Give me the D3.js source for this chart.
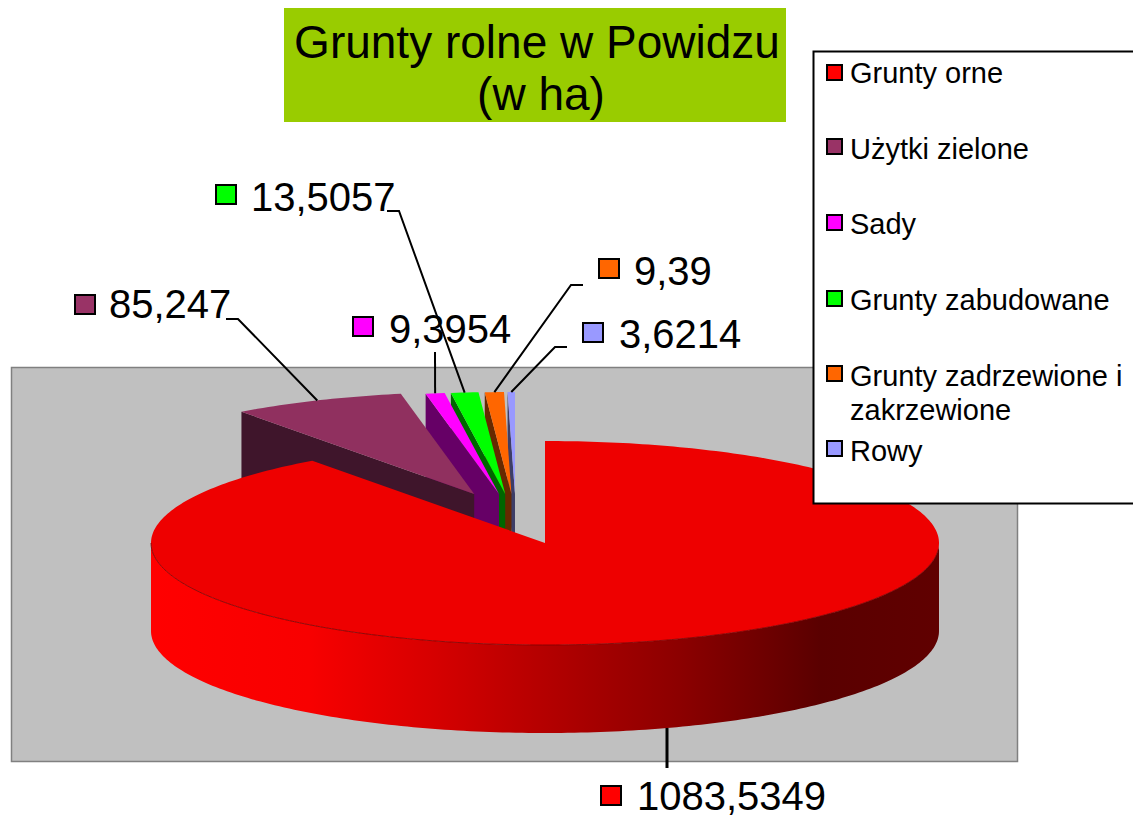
<!DOCTYPE html>
<html>
<head>
<meta charset="utf-8">
<script src="https://cdn.jsdelivr.net/npm/d3@7"></script>
<style>
  html, body { margin: 0; padding: 0; background: #fff; overflow: hidden; }
  svg { display: block; }
  text { font-family: "Liberation Sans", Arial, sans-serif; fill: #000; }
</style>
</head>
<body>
<div id="chart"></div>
<script>
const categories = ["Grunty orne", "Użytki zielone", "Sady", "Grunty zabudowane", "Grunty zadrzewione i zakrzewione", "Rowy"];
const values = [1083.5349, 85.247, 9.3954, 13.5057, 9.39, 3.6214];
const valueLabels = ["1083,5349", "85,247", "9,3954", "13,5057", "9,39", "3,6214"];
const topColors = ["#ee0000", "#90305f", "#ff00ff", "#00ff00", "#ff6600", "#9999ff"];
const sideColors = ["#ee0000", "#3f152b", "#660066", "#006600", "#662900", "#3d3d66"];
const markerColors = ["#ff0000", "#993366", "#ff00ff", "#00ff00", "#ff6600", "#9999ff"];

const width = 1133, height = 819;
const cx = 545, cy = 543, rx = 394, ry = 102, depth = 88;

// label box: marker corner, text start, baseline, leader elbow
const labelLayout = [
    { mx: 601, my: 786, tx: 637, ty: 810, leader: [[667, 768]] },
    { mx: 75, my: 295, tx: 109, ty: 318, leader: [[226, 319], [238, 319]] },
    { mx: 353, my: 317, tx: 389, ty: 343, leader: [[435, 352]] },
    { mx: 216, my: 185, tx: 251, ty: 211, leader: [[387, 211], [399, 211]] },
    { mx: 599, my: 259, tx: 634, ty: 285, leader: [[583, 285], [571, 285]] },
    { mx: 583, my: 323, tx: 619, ty: 348, leader: [[567, 347], [555, 347]] },
];
const legendLayout = [
    { my: 65, lines: [83] },
    { my: 139, lines: [159] },
    { my: 215, lines: [234] },
    { my: 291, lines: [310] },
    { my: 366, lines: [386, 420] },
    { my: 441, lines: [461] },
];
const legendLines = [["Grunty orne"], ["Użytki zielone"], ["Sady"], ["Grunty zabudowane"], ["Grunty zadrzewione i", "zakrzewione"], ["Rowy"]];

const svg = d3.select("#chart").append("svg").attr("width", width).attr("height", height);

const arcs = d3.pie().sort(null).startAngle(0).endAngle(Math.PI * 2)(values);

// the small slices are pulled out towards the back and left
arcs.forEach((a, i) => {
    const mid = (a.startAngle + a.endAngle) / 2;
    a.ox = i === 0 ? cx : cx - 29 + 105 * Math.sin(mid);
    a.oy = i === 0 ? cy : cy - 49;
});

const px = (a, t) => a.ox + rx * Math.sin(t);
const py = (a, t) => a.oy - ry * Math.cos(t);

function arcPoints(a, t0, t1) {
    const n = Math.max(2, Math.ceil(Math.abs(t1 - t0) * 60));
    return d3.range(n + 1).map((k) => {
        const t = t0 + (t1 - t0) * k / n;
        return [px(a, t), py(a, t)];
    });
}
const line = d3.line();

const defs = svg.append("defs");
const wallGrad = defs.append("linearGradient").attr("id", "wall")
    .attr("gradientUnits", "userSpaceOnUse")
    .attr("x1", cx - rx).attr("x2", cx + rx).attr("y1", 0).attr("y2", 0);
[[0, "#ff0000"], [0.2, "#f80000"], [0.35, "#d80000"], [0.55, "#a80000"], [0.67, "#8c0000"], [0.85, "#5a0000"], [1, "#600000"]].forEach((s) => {
    wallGrad.append("stop").attr("offset", s[0]).attr("stop-color", s[1]);
});

// plot area
svg.append("rect").attr("x", 11.5).attr("y", 367.5).attr("width", 1006).attr("height", 394)
    .attr("fill", "#c0c0c0").attr("stroke", "#808080").attr("stroke-width", 1.5);

// slices from the back of the stack to the front
const drawOrder = [5, 4, 3, 2, 1, 0];
drawOrder.forEach((i) => {
    const a = arcs[i];
    const g = svg.append("g").attr("class", "slice");
    if (i === 0) {
        // front wall of the big slice
        const front = arcPoints(a, Math.PI / 2, 3 * Math.PI / 2);
        const wall = front.concat(front.slice().reverse().map((p) => [p[0], p[1] + depth]));
        g.append("path").attr("d", line(wall) + "Z").attr("fill", "url(#wall)");
    } else {
        // cut face along the slice's first radius
        const corner = [px(a, a.startAngle), py(a, a.startAngle)];
        const face = [corner, [a.ox, a.oy], [a.ox, a.oy + depth], [corner[0], corner[1] + depth]];
        g.append("path").attr("d", line(face) + "Z").attr("fill", sideColors[i]);
    }
    const top = [[a.ox, a.oy]].concat(arcPoints(a, a.startAngle, a.endAngle));
    g.append("path").attr("d", line(top) + "Z").attr("fill", topColors[i]);
    if (i === 0) {
        // thin dark rim where the top meets the wall
        g.append("path").attr("d", line(arcPoints(a, Math.PI * 0.52, Math.PI * 1.5)))
            .attr("fill", "none").attr("stroke", "#7a0000").attr("stroke-width", 1).attr("stroke-opacity", 0.8);
    }
});

// leaders end on the slice's outer edge
arcs.forEach((a, i) => {
    const mid = (a.startAngle + a.endAngle) / 2;
    let end = [px(a, mid), py(a, mid)];
    if (i === 0) end = [labelLayout[0].leader[0][0], py(a, Math.PI - Math.asin((labelLayout[0].leader[0][0] - cx) / rx)) + depth];
    svg.append("path")
        .attr("d", line(labelLayout[i].leader.concat([end])))
        .attr("fill", "none").attr("stroke", "#000").attr("stroke-width", i === 0 ? 3 : 2);
});

// data labels
const labels = svg.selectAll(".value-label").data(arcs).join("g").attr("class", "value-label");
labels.append("rect")
    .attr("x", (d, i) => labelLayout[i].mx).attr("y", (d, i) => labelLayout[i].my)
    .attr("width", 20).attr("height", 19)
    .attr("fill", (d, i) => markerColors[i]).attr("stroke", "#000").attr("stroke-width", 2);
labels.append("text")
    .attr("x", (d, i) => labelLayout[i].tx).attr("y", (d, i) => labelLayout[i].ty)
    .attr("font-size", 40)
    .text((d, i) => valueLabels[i]);

// title
svg.append("rect").attr("x", 284).attr("y", 8).attr("width", 502).attr("height", 114).attr("fill", "#99cc00");
svg.append("text").attr("x", 537).attr("y", 58).attr("text-anchor", "middle").attr("font-size", 46).text("Grunty rolne w Powidzu");
svg.append("text").attr("x", 541).attr("y", 110).attr("text-anchor", "middle").attr("font-size", 46).text("(w ha)");

// legend
svg.append("rect").attr("x", 813.5).attr("y", 51.5).attr("width", 340).attr("height", 452)
    .attr("fill", "#fff").attr("stroke", "#000").attr("stroke-width", 2);
const legend = svg.selectAll(".legend-item").data(categories).join("g").attr("class", "legend-item");
legend.append("rect")
    .attr("x", 827).attr("y", (d, i) => legendLayout[i].my)
    .attr("width", 15).attr("height", 15)
    .attr("fill", (d, i) => markerColors[i]).attr("stroke", "#000").attr("stroke-width", 2);
legend.each(function (d, i) {
    d3.select(this).selectAll("text").data(legendLines[i]).join("text")
        .attr("x", 850).attr("y", (t, k) => legendLayout[i].lines[k])
        .attr("font-size", 29)
        .text((t) => t);
});
</script>
</body>
</html>
